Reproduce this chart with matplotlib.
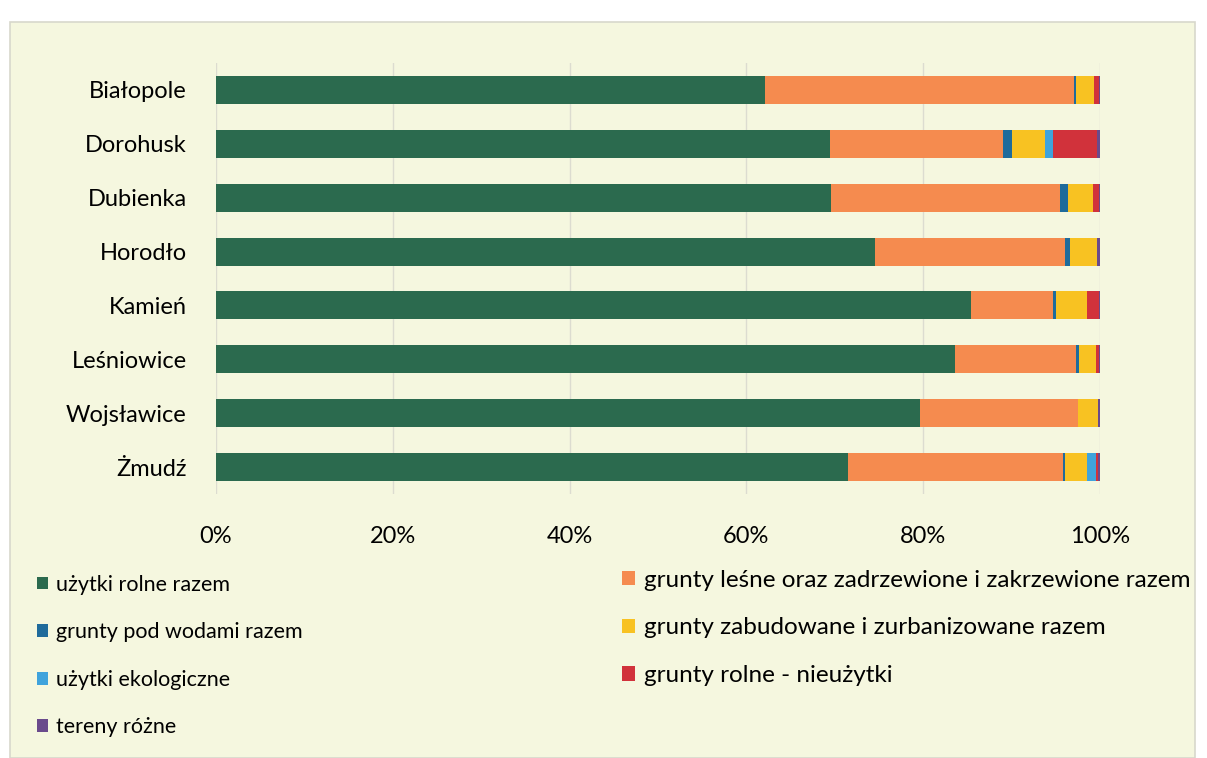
import matplotlib
matplotlib.use("Agg")
import matplotlib.pyplot as plt
import numpy as np
from matplotlib.patches import Rectangle, Patch
from matplotlib.ticker import PercentFormatter

plt.rcParams['font.family'] = ['Lato', 'DejaVu Sans']

gminy = ['Białopole', 'Dorohusk', 'Dubienka', 'Horodło', 'Kamień',
         'Leśniowice', 'Wojsławice', 'Żmudź']

# shares in % (series in the chart's stacking order)
uzytki_rolne = [62.1, 69.5, 69.6, 74.5, 85.4, 83.6, 79.6, 71.5]
grunty_lesne = [35.0, 19.5, 25.9, 21.5, 9.3, 13.7, 17.9, 24.3]
pod_wodami = [0.2, 1.1, 0.9, 0.6, 0.3, 0.3, 0.0, 0.2]
zabudowane = [2.0, 3.7, 2.8, 3.1, 3.5, 2.0, 2.3, 2.5]
ekologiczne = [0.0, 0.9, 0.0, 0.0, 0.0, 0.0, 0.0, 1.0]
nieuzytki = [0.6, 5.0, 0.7, 0.0, 1.4, 0.3, 0.0, 0.3]
tereny_rozne = [0.1, 0.3, 0.1, 0.3, 0.1, 0.1, 0.2, 0.2]

series = [
    ('użytki rolne razem', uzytki_rolne, '#2b6a4e'),
    ('grunty leśne oraz zadrzewione i zakrzewione razem', grunty_lesne, '#f58b4f'),
    ('grunty pod wodami razem', pod_wodami, '#1f6b9b'),
    ('grunty zabudowane i zurbanizowane razem', zabudowane, '#f8c222'),
    ('użytki ekologiczne', ekologiczne, '#3fa3dc'),
    ('grunty rolne - nieużytki', nieuzytki, '#d1323b'),
    ('tereny różne', tereny_rozne, '#6a4a8c'),
]

W, H = 1207, 758
fig = plt.figure(figsize=(W / 100, H / 100), dpi=100, facecolor='white')

# chart background box
fig.patches.append(Rectangle((10 / W, 0), 1185 / W, 1 - 22 / H, transform=fig.transFigure,
                             facecolor='#f5f7df', edgecolor='#d8d8cc', lw=1.2, zorder=-5))

ax = fig.add_axes([216 / W, 1 - 494 / H, 884 / W, 431 / H], zorder=2)
ax.set_facecolor('none')

y = np.arange(len(gminy))
left = np.zeros(len(gminy))
for name, vals, col in series:
    vals = np.array(vals)
    ax.barh(y, vals, left=left, height=0.52, color=col, edgecolor='none', zorder=3)
    left += vals

ax.set_xlim(0, 100)
ax.set_ylim(len(gminy) - 0.5, -0.5)
ax.set_yticks(y)
ax.set_yticklabels(gminy, fontsize=17)
ax.set_xticks(np.arange(0, 101, 20))
ax.xaxis.set_major_formatter(PercentFormatter(decimals=0))
ax.tick_params(axis='x', labelsize=17, length=0, pad=23)
ax.tick_params(axis='y', length=0, pad=21)
ax.grid(axis='x', color='#dcdcd0', lw=1, zorder=0)
for s in ax.spines.values():
    s.set_visible(False)

left_items = [series[i] for i in (0, 2, 4, 6)]
right_items = [series[i] for i in (1, 3, 5)]
for items, x0, y0, fs, ls in ((left_items, 28 / W, 566, 15.5, 1.28),
                              (right_items, 612 / W, 560, 17.5, 1.1)):
    handles = [Patch(facecolor=c, edgecolor='none') for _, _, c in items]
    fig.legend(handles, [n for n, _, _ in items], loc='upper left',
               bbox_to_anchor=(x0, 1 - y0 / H), frameon=False, fontsize=fs,
               handlelength=0.55, handleheight=0.55, handletextpad=0.35,
               labelspacing=ls, borderaxespad=0)

fig.savefig('out.png', dpi=100, facecolor=fig.get_facecolor())
